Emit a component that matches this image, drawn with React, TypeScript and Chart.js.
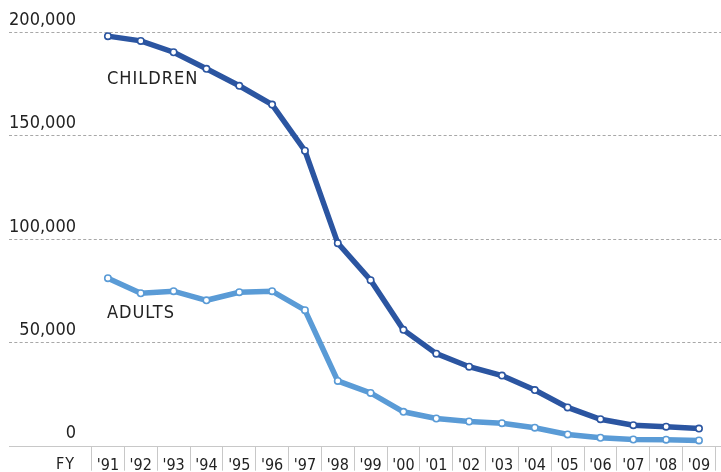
import React, { useEffect, useRef } from 'react';
import { Chart, registerables } from 'chart.js';

Chart.register(...registerables);

const years = ["'91", "'92", "'93", "'94", "'95", "'96", "'97", "'98", "'99", "'00", "'01", "'02", "'03", "'04", "'05", "'06", "'07", "'08", "'09"];
const children = [198000, 195700, 190200, 182200, 174000, 164900, 142600, 97900, 80000, 56000, 44500, 38200, 33900, 26900, 18500, 12800, 9900, 9200, 8300];
const adults = [81000, 73700, 74700, 70300, 74200, 74700, 65500, 31300, 25500, 16400, 13150, 11700, 10900, 8700, 5450, 3850, 3000, 2900, 2550];
const yTickValues = [0, 50000, 100000, 150000, 200000];
const seriesNames = ['CHILDREN', 'ADULTS'];
const axisTitle = 'FY';
// anchor values (y) for the in-chart series names
const nameAnchors = [176900, 64000];

const DARK = '#2b55a1';
const LIGHT = '#5a9bd6';
const FONT = '"DejaVu Sans Condensed", "DejaVu Sans", sans-serif';

export default function App() {
  const ref = useRef<HTMLCanvasElement | null>(null);

  useEffect(() => {
    document.body.style.margin = '0';
    const canvas = ref.current;
    if (!canvas) return;

    const overlay = {
      id: 'overlay',
      beforeDatasetsDraw(chart: any) {
        const { ctx, scales } = chart;
        const y = scales.y;
        ctx.save();
        for (const v of yTickValues) {
          const py = Math.round(y.getPixelForValue(v)) + 0.5;
          ctx.beginPath();
          if (v === 0) {
            ctx.setLineDash([]);
            ctx.strokeStyle = '#c8c8c8';
          } else {
            ctx.setLineDash([3, 2.3]);
            ctx.strokeStyle = '#a8a8a8';
          }
          ctx.lineWidth = 1;
          ctx.moveTo(9, py);
          ctx.lineTo(chart.width, py);
          ctx.stroke();
        }
        ctx.restore();
      },
      afterDatasetsDraw(chart: any) {
        const { ctx, scales } = chart;
        const x = scales.x;
        const y = scales.y;
        ctx.save();
        ctx.fillStyle = '#222';
        ctx.textBaseline = 'middle';
        ctx.textAlign = 'left';
        ctx.font = `18px ${FONT}`;
        (ctx as any).letterSpacing = '1px';
        const x0 = x.getPixelForValue(0) - 1;
        seriesNames.forEach((n, i) => {
          ctx.fillText(n, x0, y.getPixelForValue(nameAnchors[i]));
        });
        ctx.font = `16px ${FONT}`;
        ctx.textAlign = 'center';
        ctx.fillText(axisTitle, 65.5, 465);
        ctx.restore();
      },
    };

    const chart = new Chart(canvas, {
      type: 'line',
      data: {
        labels: years,
        datasets: [
          {
            label: seriesNames[0],
            data: children,
            borderColor: DARK,
            backgroundColor: DARK,
            borderWidth: 5.5,
            pointRadius: 3.2,
            pointBorderWidth: 1.6,
            pointBackgroundColor: '#ffffff',
            pointBorderColor: DARK,
            tension: 0,
          },
          {
            label: seriesNames[1],
            data: adults,
            borderColor: LIGHT,
            backgroundColor: LIGHT,
            borderWidth: 5.5,
            pointRadius: 3.2,
            pointBorderWidth: 1.6,
            pointBackgroundColor: '#ffffff',
            pointBorderColor: LIGHT,
            tension: 0,
          },
        ],
      },
      options: {
        animation: false,
        responsive: false,
        maintainAspectRatio: false,
        layout: { padding: { left: 0, right: 2.5, top: 32, bottom: 0 } },
        plugins: {
          legend: { display: false },
          tooltip: { enabled: false },
        },
        scales: {
          x: {
            type: 'category',
            offset: true,
            grid: {
              display: true,
              offset: true,
              drawOnChartArea: false,
              drawTicks: true,
              tickLength: 25,
              color: '#c8c8c8',
              tickColor: '#c8c8c8',
            },
            border: { display: false },
            ticks: {
              color: '#222',
              font: { family: FONT, size: 16 },
              padding: -14,
              maxRotation: 0,
              autoSkip: false,
            },
            afterFit: (s: any) => {
              s.height = 24.7;
            },
          },
          y: {
            min: 0,
            max: 200000,
            afterBuildTicks: (s: any) => {
              s.ticks = yTickValues.map((v) => ({ value: v }));
            },
            grid: { display: false, drawTicks: false },
            border: { display: false },
            ticks: {
              color: '#222',
              font: { family: FONT, size: 18 },
              padding: 15.5,
              labelOffset: -12,
              callback: (v: any) => Number(v).toLocaleString('en-US'),
            },
            afterFit: (s: any) => {
              s.width = 91.5;
            },
          },
        },
      },
      plugins: [overlay],
    });

    return () => chart.destroy();
  }, []);

  return (
    <div style={{ width: 721, height: 472 }}>
      <canvas ref={ref} width={721} height={472} style={{ display: 'block', width: 721, height: 472 }} />
    </div>
  );
}
